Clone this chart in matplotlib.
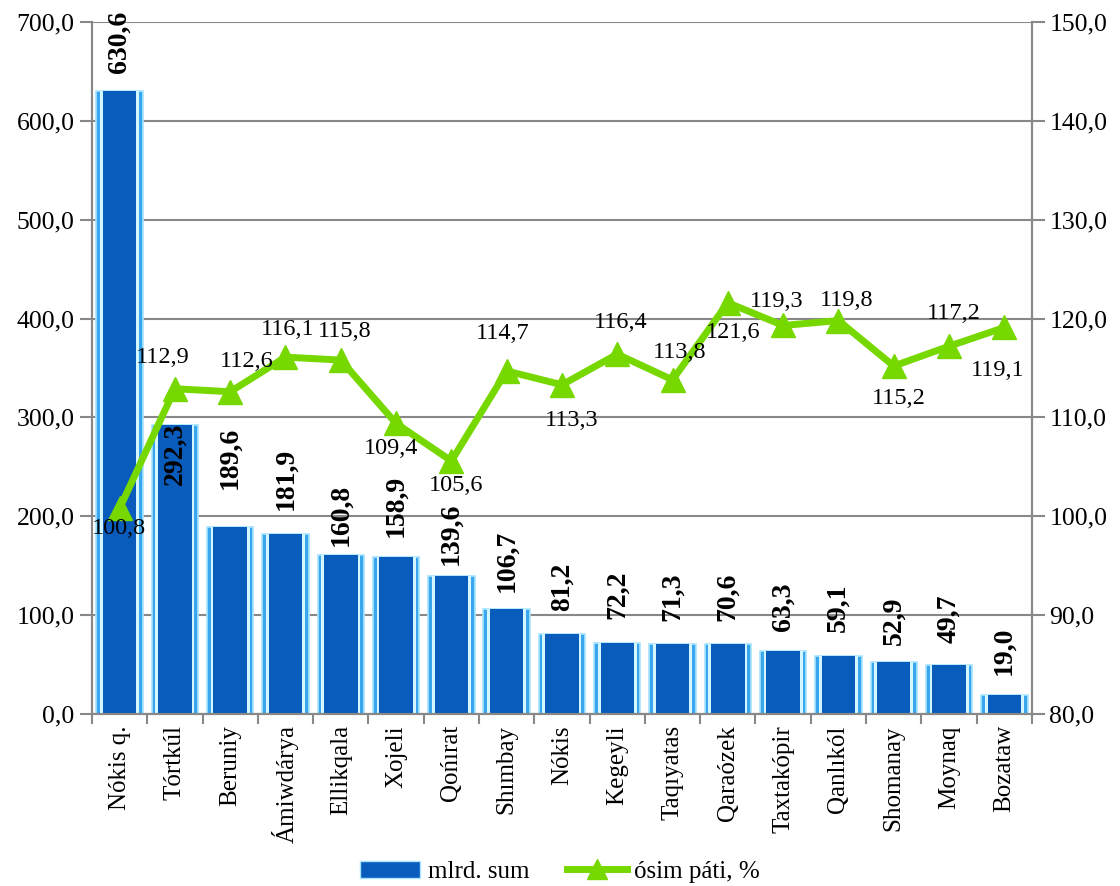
import numpy as np
import matplotlib.pyplot as plt
from matplotlib.lines import Line2D
from matplotlib.patches import Patch

plt.rcParams['font.family'] = ['Liberation Serif', 'DejaVu Serif']

districts = ['Nókis q.', 'Tórtkúl', 'Beruniy', 'Ámiwdárya', 'Ellikqala', 'Xojeli',
             'Qońırat', 'Shımbay', 'Nókis', 'Kegeyli', 'Taqıyatas', 'Qaraózek',
             'Taxtakópir', 'Qanlıkól', 'Shomanay', 'Moynaq', 'Bozataw']
volume = [630.6, 292.3, 189.6, 181.9, 160.8, 158.9, 139.6, 106.7, 81.2,
          72.2, 71.3, 70.6, 63.3, 59.1, 52.9, 49.7, 19.0]
growth = [100.8, 112.9, 112.6, 116.1, 115.8, 109.4, 105.6, 114.7, 113.3,
          116.4, 113.8, 121.6, 119.3, 119.8, 115.2, 117.2, 119.1]

bar_name = 'mlrd. sum'
line_name = 'ósim páti, %'

# label placement (pixels)
bar_gap = [18, -60, 38, 24, 9, 20, 11, 17, 23, 24, 23, 23, 20, 24, 17, 22, 20]
line_off = [(-1, -20), (-12, 31), (17, 30), (2, 28), (4, 29), (-5, -25),
            (5, -25), (-4, 37), (10, -36), (3, 32), (7, 27), (5, -30),
            (-6, 24), (8, 20), (5, -32), (5, 33), (-7, -43)]


def fmt(v):
    return f'{v:.1f}'.replace('.', ',')


def main():
    fig = plt.figure(figsize=(11.2, 8.86), dpi=100)
    ax = fig.add_axes([0.0821, 0.1941, 0.8393, 0.7811])
    ax2 = ax.twinx()

    x = np.arange(len(districts))
    w = 0.84
    ax.bar(x, volume, width=w, color='#3aa6ee', edgecolor='#a8e4ff', linewidth=1.2, zorder=2)
    ax.bar(x, volume, width=w * 0.84, color='#d4f6ff', linewidth=0, zorder=2)
    ax.bar(x, volume, width=w * 0.72, color='#0a5cbc', linewidth=0, zorder=2)

    for i, v in enumerate(volume):
        ax.annotate(fmt(v), (x[i], v), xytext=(0, bar_gap[i]), textcoords='offset pixels',
                    rotation=90, ha='center', va='bottom', fontsize=20,
                    fontweight='bold', zorder=5)

    ax.set_xlim(-0.5, len(districts) - 0.5)
    ax.set_ylim(0, 700)
    ax.set_yticks(np.arange(0, 701, 100))
    ax.set_yticklabels([fmt(t) for t in np.arange(0, 701, 100)], fontsize=18.5)
    ax.yaxis.grid(True, color='#888888', linewidth=1.5, zorder=0)
    ax.set_axisbelow(True)

    ax.set_xticks(x)
    ax.set_xticklabels(districts, rotation=90, fontsize=18)
    ax.tick_params(axis='x', which='major', length=0, pad=8)
    ax.set_xticks(np.arange(-0.5, len(districts)), minor=True)
    ax.tick_params(axis='x', which='minor', length=7, color='#888888', width=1.5)
    ax.tick_params(axis='y', length=9, color='#888888', width=1.5)

    ax2.plot(x, growth, color='#77d800', linewidth=5, marker='^', markersize=17,
             solid_joinstyle='round', zorder=4)
    for i, v in enumerate(growth):
        ax2.annotate(fmt(v), (x[i], v), xytext=line_off[i], textcoords='offset pixels',
                     ha='center', va='center', fontsize=17.5, zorder=6)
    ax2.set_ylim(80, 150)
    ax2.set_yticks(np.arange(80, 151, 10))
    ax2.set_yticklabels([fmt(t) for t in np.arange(80, 151, 10)], fontsize=18.5)
    ax2.tick_params(axis='y', length=9, color='#888888', width=1.5)

    for a in (ax, ax2):
        a.spines['top'].set_visible(False)
        for s in ('left', 'right', 'bottom'):
            a.spines[s].set_color('#888888')
            a.spines[s].set_linewidth(1.5)

    handles = [Patch(facecolor='#0a5cbc', edgecolor='#a8e4ff', label=bar_name),
               Line2D([], [], color='#77d800', linewidth=5, marker='^', markersize=14,
                      label=line_name)]
    fig.legend(handles=handles, loc='center', bbox_to_anchor=(0.5, 0.016), ncol=2,
               frameon=False, fontsize=18, handlelength=2.4, columnspacing=1.5,
               handletextpad=0.3)

    fig.savefig('out.png', dpi=100)


if __name__ == '__main__':
    main()
